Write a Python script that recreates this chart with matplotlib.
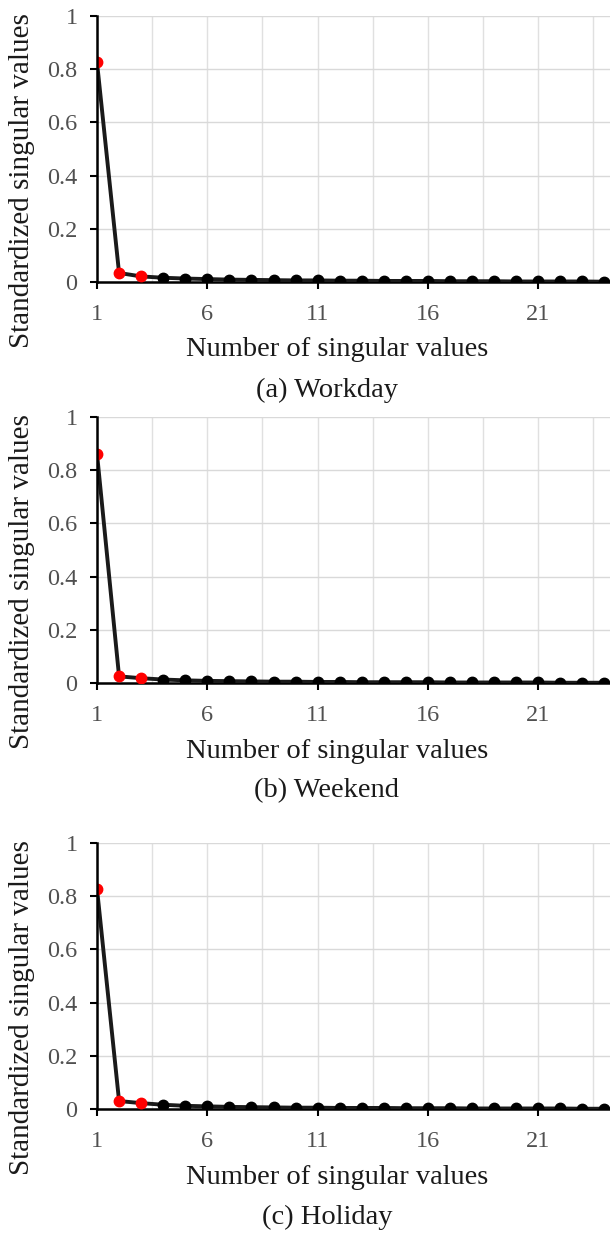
import numpy as np
import matplotlib.pyplot as plt

plt.rcParams['font.family'] = ['Liberation Serif', 'DejaVu Serif']

# 标准化奇异值（前24个）
n_values = np.arange(1, 25)
workday = [0.826, 0.034, 0.021, 0.016, 0.013, 0.011, 0.009, 0.008, 0.007, 0.006,
           0.006, 0.005, 0.005, 0.004, 0.004, 0.004, 0.003, 0.003, 0.003, 0.002,
           0.002, 0.002, 0.002, 0.001]
weekend = [0.862, 0.025, 0.018, 0.013, 0.010, 0.008, 0.007, 0.006, 0.005, 0.005,
           0.004, 0.004, 0.003, 0.003, 0.003, 0.003, 0.002, 0.002, 0.002, 0.002,
           0.002, 0.001, 0.001, 0.001]
holiday = [0.828, 0.030, 0.022, 0.016, 0.012, 0.010, 0.008, 0.007, 0.006, 0.005,
           0.005, 0.004, 0.004, 0.004, 0.003, 0.003, 0.003, 0.002, 0.002, 0.002,
           0.002, 0.002, 0.001, 0.001]
captions = ['(a) Workday', '(b) Weekend', '(c) Holiday']
n_red = 3

W, H = 610, 1237
fig = plt.figure(figsize=(W / 100, H / 100), dpi=100)

# 每个子图的 y=1 和 y=0 像素位置
panels = [(16, 282), (417, 683), (843, 1109)]
left, right = 97, 610
aw = right - left

for (top, bottom), vals, cap in zip(panels, [workday, weekend, holiday], captions):
    ah = bottom - top
    ax = fig.add_axes([left / W, 1 - bottom / H, aw / W, ah / H])
    ax.plot(n_values, vals, color='#1a1a1a', lw=2.8, zorder=3)
    ax.plot(n_values[n_red:], vals[n_red:], 'o', color='black', ms=7.5, zorder=4)
    ax.plot(n_values[:n_red], vals[:n_red], 'o', color='#ff0000', ms=7.5, zorder=5)

    ax.set_xlim(1, 24.25)
    ax.set_ylim(0, 1)
    ax.set_xticks([1, 6, 11, 16, 21])
    ax.set_xticks(np.arange(3.5, 24.5, 2.5), minor=True)
    ax.set_yticks(np.arange(0, 1.01, 0.2))
    ax.set_yticklabels(['0', '0.2', '0.4', '0.6', '0.8', '1'])

    ax.grid(True, which='major', axis='y', color='#d9d9d9', lw=1)
    ax.grid(True, which='both', axis='x', color='#e0e0e0', lw=1)
    ax.set_axisbelow(True)
    ax.tick_params(which='minor', length=0)
    ax.tick_params(which='major', length=5, width=1.5, color='black',
                   labelsize=17.5, labelcolor='#505050')
    ax.tick_params(axis='x', which='major', pad=11)
    ax.tick_params(axis='y', which='major', pad=9)

    for s in ['top', 'right']:
        ax.spines[s].set_visible(False)
    for s in ['left', 'bottom']:
        ax.spines[s].set_linewidth(1.8)
        ax.spines[s].set_color('black')
    ax.spines['left'].set_zorder(6)

    # 坐标轴标题（像素偏移换算成轴坐标）
    ax.set_xlabel('Number of singular values', fontsize=20.5, color='#1a1a1a', va='center')
    ax.xaxis.set_label_coords((337 - left) / aw, -68 / ah)
    ax.set_ylabel('Standardized singular values', fontsize=21, color='#1a1a1a', va='center')
    ax.yaxis.set_label_coords((22 - left) / aw, 101 / ah)

    fig.text(327 / W, 1 - (bottom + 108) / H, cap,
             fontsize=20.5, color='#1a1a1a', ha='center', va='center')

fig.savefig('out.png', dpi=100)
